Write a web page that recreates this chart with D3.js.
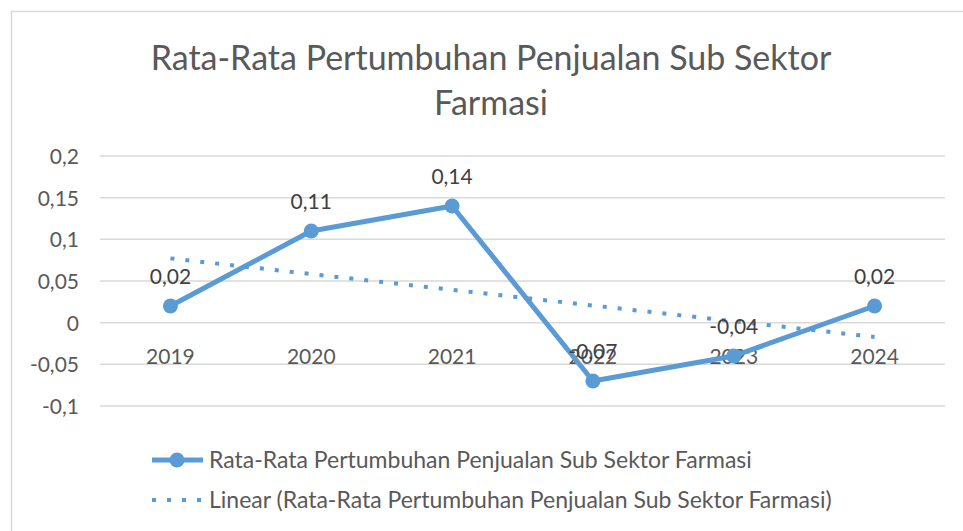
<!DOCTYPE html>
<html lang="id">
<head>
  <meta charset="UTF-8">
  <title>Rata-Rata Pertumbuhan Penjualan Sub Sektor Farmasi</title>
  <style>
    body { margin: 0; background: #fff; }
    svg { display: block; font-family: Lato, "Open Sans", sans-serif; }
    .grid line { stroke: #d9d9d9; stroke-width: 1.5px; }
    .tick-label { fill: #595959; font-size: 21px; }
    .data-label { fill: #404040; font-size: 21px; }
    .legend-label { fill: #595959; font-size: 23px; }
  </style>
</head>
<body>
  <script src="https://d3js.org/d3.v7.min.js"></script>
  <script>
    const years = ["2019", "2020", "2021", "2022", "2023", "2024"];
    const growth = [0.02, 0.11, 0.14, -0.07, -0.04, 0.02];
    const yTicks = [0.2, 0.15, 0.1, 0.05, 0, -0.05, -0.1];
    const seriesName = "Rata-Rata Pertumbuhan Penjualan Sub Sektor Farmasi";

    const width = 963, height = 531;
    const blue = "#5b9bd5";
    const fmt = v => String(v).replace(".", ",");

    const svg = d3.select("body").append("svg").attr("width", width).attr("height", height);

    // chart frame
    svg.append("rect").attr("x", 11.5).attr("y", 11.5).attr("width", 960).attr("height", 540)
      .attr("fill", "none").attr("stroke", "#d9d9d9").attr("stroke-width", 1.5);

    // title
    const title = svg.append("text").attr("text-anchor", "middle").attr("fill", "#595959")
      .attr("font-size", "34px");
    title.append("tspan").attr("x", 491).attr("y", 70).text("Rata-Rata Pertumbuhan Penjualan Sub Sektor");
    title.append("tspan").attr("x", 491).attr("y", 115).text("Farmasi");

    const x = d3.scaleBand().domain(years).range([100, 945]);
    const y = d3.scaleLinear().domain([-0.1, 0.2]).range([406, 156]);
    const cx = d => x(d) + x.bandwidth() / 2;

    // gridlines
    svg.append("g").attr("class", "grid").selectAll("line").data(yTicks).join("line")
      .attr("x1", 100).attr("x2", 945).attr("y1", d => y(d)).attr("y2", d => y(d));

    svg.append("g").selectAll("text").data(yTicks).join("text")
      .attr("class", "tick-label").attr("text-anchor", "end")
      .attr("x", 79).attr("y", d => y(d) + 8).text(fmt);

    // category labels sit right under the zero line (as in the original, -0,07 overlaps 2022)
    svg.append("g").selectAll("text").data(years).join("text")
      .attr("class", "tick-label").attr("text-anchor", "middle")
      .attr("x", cx).attr("y", y(0) + 41).text(d => d);

    // linear trend (least squares, like Excel)
    const xs = years.map((_, i) => i + 1);
    const mx = d3.mean(xs), my = d3.mean(growth);
    const slope = d3.sum(xs, (v, i) => (v - mx) * (growth[i] - my)) / d3.sum(xs, v => (v - mx) ** 2);
    const trend = xs.map(v => my + slope * (v - mx));

    svg.append("path")
      .attr("d", d3.line().x((d, i) => cx(years[i])).y(d => y(d))(trend))
      .attr("fill", "none").attr("stroke", blue).attr("stroke-width", 4)
      .attr("stroke-dasharray", "4,11");

    // main series
    svg.append("path")
      .attr("d", d3.line().x((d, i) => cx(years[i])).y(d => y(d))(growth))
      .attr("fill", "none").attr("stroke", blue).attr("stroke-width", 5).attr("stroke-linejoin", "round");

    svg.append("g").selectAll("circle").data(growth).join("circle")
      .attr("cx", (d, i) => cx(years[i])).attr("cy", d => y(d)).attr("r", 7.5).attr("fill", blue);

    svg.append("g").selectAll("text").data(growth).join("text")
      .attr("class", "data-label").attr("text-anchor", "middle")
      .attr("x", (d, i) => cx(years[i])).attr("y", d => y(d) - 22).text(fmt);

    // legend
    const legend = svg.append("g");
    legend.append("line").attr("x1", 152).attr("x2", 203).attr("y1", 460).attr("y2", 460)
      .attr("stroke", blue).attr("stroke-width", 5);
    legend.append("circle").attr("cx", 177).attr("cy", 460).attr("r", 7.5).attr("fill", blue);
    legend.append("text").attr("class", "legend-label").attr("x", 209).attr("y", 468).text(seriesName);

    legend.append("line").attr("x1", 152).attr("x2", 205).attr("y1", 500).attr("y2", 500)
      .attr("stroke", blue).attr("stroke-width", 4).attr("stroke-dasharray", "4,11");
    legend.append("text").attr("class", "legend-label").attr("x", 209).attr("y", 508)
      .text("Linear (" + seriesName + ")");
  </script>
</body>
</html>
